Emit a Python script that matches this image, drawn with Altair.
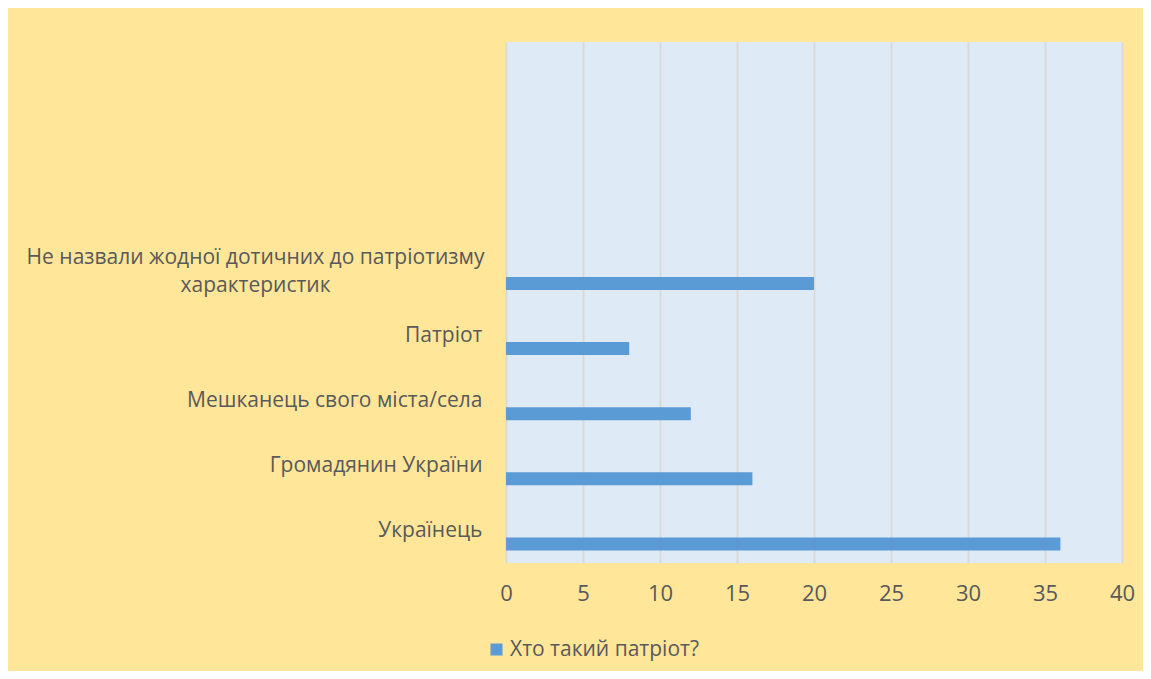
import json
import altair as alt
import pandas as pd

# ---- data ----
categories = [
    "Українець",
    "Громадянин України",
    "Мешканець свого міста/села",
    "Патріот",
    "Не назвали жодної дотичних до патріотизму характеристик",
]
values = [36, 16, 12, 8, 20]
empty_slots = [" ", "  ", "   "]          # empty category rows at the top of the axis
series_name = "Хто такий патріот?"
x_ticks = [0, 5, 10, 15, 20, 25, 30, 35, 40]
long_label = categories[4]
long_label_lines = ["Не назвали жодної дотичних до патріотизму", "характеристик"]

# ---- styles ----
YELLOW = "#FFE699"
PLOT_BG = "#DEEBF7"
BAR = "#5B9BD5"
GRID = "#D9D9D9"
TEXT = "#595959"
FONT = "Open Sans"

df = pd.DataFrame({"category": categories, "value": values, "series": series_name})
domain = empty_slots + categories[::-1]

label_expr = (
    f"datum.label == '{long_label}' ? "
    f"{json.dumps(long_label_lines, ensure_ascii=False)} : datum.label"
)
is_long = f"datum.value == '{long_label}'"

chart = (
    alt.Chart(df)
    .mark_bar(height=13, yOffset=13.5, color=BAR)
    .encode(
        x=alt.X(
            "value:Q",
            scale=alt.Scale(domain=[0, 40], nice=False),
            axis=alt.Axis(
                values=x_ticks,
                title=None,
                grid=True,
                gridColor=GRID,
                gridWidth=2,
                domain=False,
                ticks=False,
                labelFlush=False,
                labelFontSize=22,
                labelColor=TEXT,
                labelPadding=20,
                labelFont=FONT,
            ),
        ),
        y=alt.Y(
            "category:N",
            sort=domain,
            scale=alt.Scale(domain=domain, paddingInner=0, paddingOuter=0),
            axis=alt.Axis(
                title=None,
                domain=False,
                ticks=False,
                tickSize=0,
                labelLimit=700,
                labelFontSize=21,
                labelColor=TEXT,
                labelFont=FONT,
                labelLineHeight=28,
                labelExpr=label_expr,
                labelAlign={"condition": {"test": is_long, "value": "center"}, "value": "right"},
                labelPadding={"condition": {"test": is_long, "value": 251}, "value": 24},
                labelOffset={"condition": {"test": is_long, "value": -12}, "value": 1},
            ),
        ),
        color=alt.Color(
            "series:N",
            scale=alt.Scale(range=[BAR]),
            legend=alt.Legend(
                title=None,
                orient="none",
                legendX=-20,
                legendY=597,
                symbolType="square",
                symbolSize=144,
                symbolStrokeWidth=0,
                labelFontSize=21,
                labelColor=TEXT,
                labelFont=FONT,
                labelOffset=3,
                labelLimit=400,
                padding=0,
            ),
        ),
    )
    .properties(
        width=616,
        height=521,
        background=YELLOW,
        autosize="none",
        padding={"left": 498, "top": 34, "right": 21, "bottom": 108},
    )
    .configure_view(fill=PLOT_BG, strokeWidth=0)
)

chart.save("out.html", embed_options={"renderer": "svg", "actions": False})
